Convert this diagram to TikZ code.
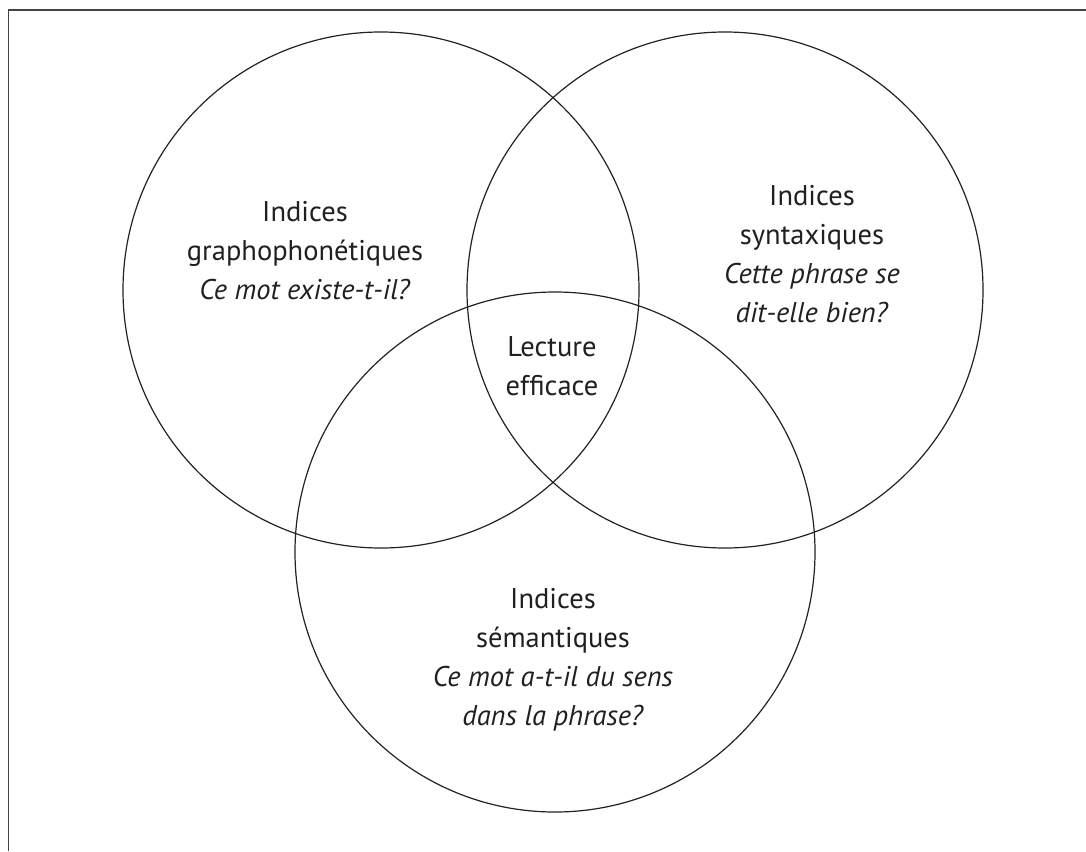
\documentclass[tikz,border=0pt]{standalone}
\usepackage{fontspec}
\setmainfont{PT Sans}
\begin{document}
\begin{tikzpicture}[x=1pt,y=-1pt,
  venn/.style={circle,draw=linec,line width=1.2pt,inner sep=0pt,minimum size=#1},
  lbl/.style={align=center,text=textc,font=\fontsize{28.5}{39}\selectfont,inner sep=0pt}]
\definecolor{linec}{HTML}{222222}
\definecolor{textc}{HTML}{231F20}
\useasboundingbox (0,0) rectangle (1086,851);
\coordinate (fbl) at (8.5,851);
\coordinate (ftl) at (8.5,10);
\coordinate (ftr) at (1086,10);
\draw[line width=1.6pt,color=linec!85] (fbl) -- (ftl) -- (ftr);
\node[venn=516pt] (L) at (381,290) {};
\node[venn=516pt] (R) at (725,290) {};
\node[venn=520pt] (B) at (555,552) {};
\node[lbl] (tL) at (305,251) {Indices\\graphophonétiques\\\textit{Ce mot existe-t-il?}};
\node[lbl] (tR) at (812,254) {Indices\\syntaxiques\\\textit{Cette phrase se}\\\textit{dit-elle bien?}};
\node[lbl] (tC) at (552,366) {Lecture\\efficace};
\node[lbl] (tB) at (553,660) {Indices\\sémantiques\\\textit{Ce mot a-t-il du sens}\\\textit{dans la phrase?}};
\end{tikzpicture}
\end{document}
